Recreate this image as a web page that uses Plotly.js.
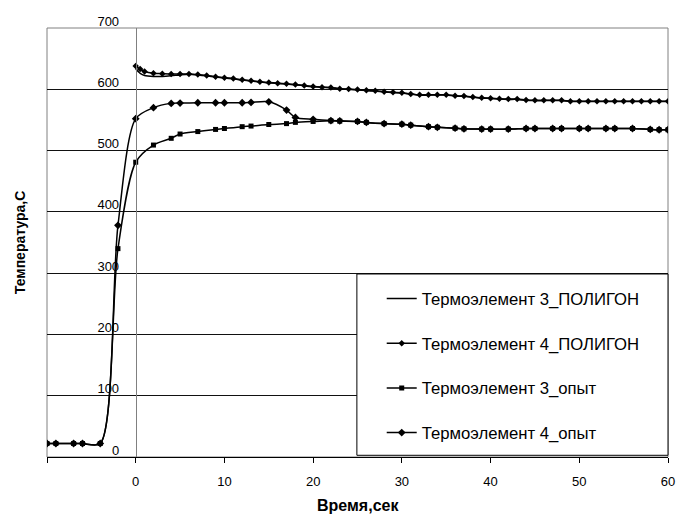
<!DOCTYPE html>
<html><head><meta charset="utf-8">
<script src="https://cdn.plot.ly/plotly-3.0.1.min.js"></script>
<style>html,body{margin:0;padding:0;background:#fff}</style>
</head><body><div id="chart" style="width:678px;height:518px"></div>
<script>
const seriesNames = ['Термоэлемент 3_ПОЛИГОН','Термоэлемент 4_ПОЛИГОН','Термоэлемент 3_опыт','Термоэлемент 4_опыт'];

const polyTime = [0,0.5,1,2,3,4,5,6,7,8,9,10,11,12,13,14,15,16,17,18,19,20,21,22,23,24,25,26,27,28,29,30,
  31,32,33,34,35,36,37,38,39,40,41,42,43,44,45,46,47,48,49,50,51,52,53,54,55,56,57,58,59,60];
const poly3Temp = [633,626,622.5,621,621,622,623.5,624.5,623.5,622,620,618.5,617,615,613.5,612,610.5,609.5,608.5,607.5,605.5,604,603,602.5,600.5,600,599,598,597,595.5,594.5,594,
  592,590.5,590.5,590.5,590.5,589,588.5,587,585.5,585,584,583.5,583.5,582,581.5,581.5,581.5,581.5,580,580,580,580,580,580,580,580,580,580,580,580];
const poly4Temp = [638,633,629,626,625.5,625,625,625,624,622.5,620.5,619,617.5,615.5,614,612.5,611,610,609,608,606,604.5,603.5,603,601,600.5,599.5,598.5,597.5,596,595,594.5,
  592.5,591,591,591,591,589.5,589,587.5,586,585.5,584.5,584,584,582.5,582,582,582,582,580.5,580.5,580.5,580.5,580.5,580.5,580.5,580.5,580.5,580.5,580.5,580.5];

const expTime = [-10,-9,-7,-6,-4,-2,0,2,4,5,7,9,10,12,13,15,17,18,20,22,23,25,26,28,30,
  31,33,34,36,37,39,40,42,44,45,47,48,50,51,53,54,56,58,59,60];
const exp3Temp = [22,22,22,22,22,340,481,509,520,527,531,534.5,536,539,540,542.5,544,546,547.5,548.5,548,547.5,546,544,543,
  541.5,539,538,536.5,535.5,535,535,535,536,536,536,536,536,536,536,536,536,534.5,534,534];
const exp4Temp = [22,22,22,22,22,378,552,570,577,577.5,578,578,578,578,578.5,579.5,566,554,551,549,548.5,547.5,546,544,543,
  541.5,539,538,536.5,535.5,535,535,535,536,536,536,536,536,536,536,536,536,534.5,534,534];

const xTickVals = [-10,0,10,20,30,40,50,60];
const xTickText = ['','0','10','20','30','40','50','60'];
const yTickVals = [0,100,200,300,400,500,600,700];

const traces = [
  {x: polyTime, y: poly3Temp, name: seriesNames[0], legendgroup:'a', mode:'lines',
   line:{color:'#000', width:1.5, shape:'spline', smoothing:0.6}},
  {x: polyTime, y: poly4Temp, name: seriesNames[1], legendgroup:'b', mode:'lines+markers',
   line:{color:'#000', width:1.5, shape:'spline', smoothing:0.6},
   marker:{symbol:'diamond', size:5, color:'#000'}},
  {x: expTime, y: exp3Temp, name: seriesNames[2], legendgroup:'c', mode:'lines+markers',
   line:{color:'#000', width:1.5, shape:'spline', smoothing:0.8},
   marker:{symbol:'square', size:5, color:'#000'}},
  {x: expTime, y: exp4Temp, name: seriesNames[3], legendgroup:'d', mode:'lines+markers',
   line:{color:'#000', width:1.5, shape:'spline', smoothing:0.8},
   marker:{symbol:'diamond', size:6, color:'#000'}}
];

const layout = {
  width:678, height:518,
  margin:{l:47, r:10, t:28, b:61},
  paper_bgcolor:'#fff', plot_bgcolor:'#fff',
  font:{family:'Liberation Sans, Arial, sans-serif', color:'#000', size:12},
  showlegend:true,
  legend:{x:0.539, y:0.41, xanchor:'left', yanchor:'top', bgcolor:'rgba(0,0,0,0)', borderwidth:0,
    font:{size:16.7, color:'#000'}, traceorder:'grouped', tracegroupgap:20},
  xaxis:{range:[-10,60], tickvals:xTickVals, ticktext:xTickText, ticks:'outside', ticklen:5,
    tickcolor:'#000', tickwidth:1, showline:true, linecolor:'#000', linewidth:1,
    showgrid:false, zeroline:false, tickfont:{size:13}, ticklabelstandoff:7},
  yaxis:{range:[0,700], tickvals:yTickVals, anchor:'free', position:10/70, showline:true,
    linecolor:'#808080', linewidth:1, ticks:'', showgrid:true, gridcolor:'#111', gridwidth:1,
    zeroline:false, ticklabelshift:-7, ticklabelstandoff:14, tickfont:{size:13}},
  shapes:[
    {type:'rect', xref:'paper', yref:'paper', x0:0, x1:1, y0:0, y1:1, layer:'between',
     line:{color:'#808080', width:1}, fillcolor:'rgba(0,0,0,0)'},
    {type:'rect', xref:'paper', yref:'paper', x0:0.499, x1:1, y0:0.004, y1:0.4266, layer:'above',
     line:{color:'#000', width:1}, fillcolor:'#fff'}
  ],
  annotations:[
    {text:'Температура,С', xref:'paper', yref:'paper', x:-0.044, y:0.5, textangle:-90,
     showarrow:false, xanchor:'center', yanchor:'middle', font:{size:14, weight:'bold'}},
    {text:'Время,сек', xref:'paper', yref:'paper', x:0.5, y:-0.112,
     showarrow:false, xanchor:'center', yanchor:'middle', font:{size:16, weight:'bold'}}
  ]
};

Plotly.newPlot('chart', traces, layout, {displayModeBar:false, staticPlot:true});
</script>
</body></html>
